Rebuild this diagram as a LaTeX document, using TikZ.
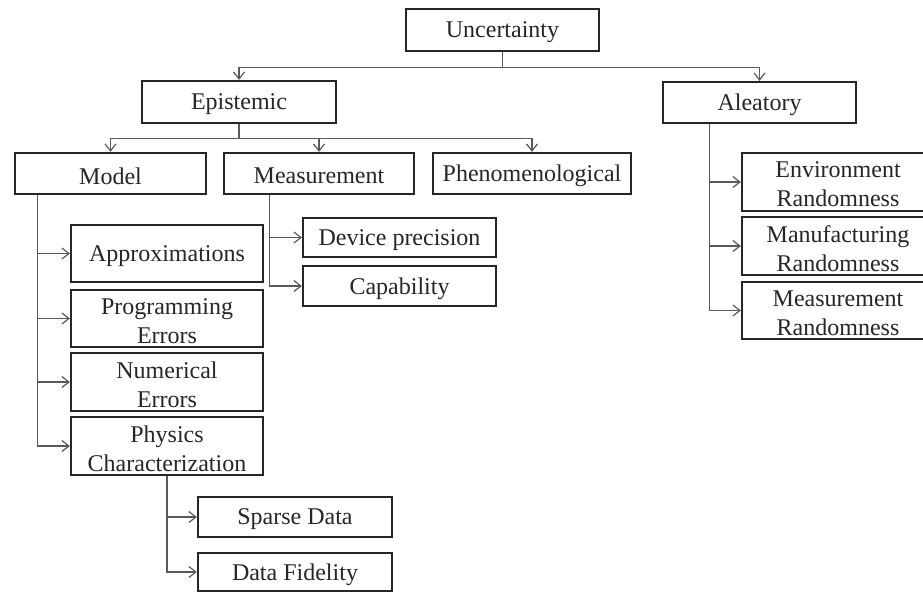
\documentclass[tikz,border=0pt]{standalone}
\usepackage{fontspec}
\setmainfont{Liberation Serif}
\usetikzlibrary{arrows.meta}
\begin{document}
\begin{tikzpicture}[x=1pt,y=-1pt,
  box/.style={draw=black!85, line width=2.3pt, fill=white, inner sep=0pt},
  lab/.style={align=center, inner sep=0pt, yshift=-2.5pt,
    font=\fontsize{24}{29}\selectfont, text=black!85},
  arr/.style={draw=black!65, line width=1.2pt, -{Straight Barb[length=7pt,width=11pt,line width=1.2pt]}}]
\useasboundingbox (0,0) rectangle (923,592);
% nodes
\node[box, minimum width=193pt, minimum height=42pt, label={[lab]center:Uncertainty}] (unc) at (502.5,30) {};
\node[box, minimum width=194pt, minimum height=42pt, label={[lab]center:Epistemic}] (epi) at (239,102) {};
\node[box, minimum width=193pt, minimum height=41pt, label={[lab]center:Aleatory}] (ale) at (759.5,102.5) {};
\node[box, minimum width=191pt, minimum height=41pt, label={[lab]center:Model}] (model) at (110.5,173.5) {};
\node[box, minimum width=190pt, minimum height=41pt, label={[lab]center:Measurement}] (meas) at (319,173.5) {};
\node[box, minimum width=198pt, minimum height=41pt, label={[lab]center:Phenomenological}] (phen) at (532,173.5) {};
\node[box, minimum width=192pt, minimum height=57pt, label={[lab]center:Approximations}] (approx) at (167,253.5) {};
\node[box, minimum width=192pt, minimum height=57pt, label={[lab]center:{Programming\\Errors}}] (prog) at (167,318.5) {};
\node[box, minimum width=192pt, minimum height=58pt, label={[lab]center:{Numerical\\Errors}}] (num) at (167,382) {};
\node[box, minimum width=192pt, minimum height=58pt, label={[lab]center:{Physics\\Characterization}}] (phys) at (167,446) {};
\node[box, minimum width=193pt, minimum height=39pt, label={[lab]center:Device precision}] (dev) at (399.5,237.5) {};
\node[box, minimum width=193pt, minimum height=40pt, label={[lab]center:Capability}] (cap) at (399.5,286) {};
\node[box, minimum width=194pt, minimum height=40pt, label={[lab]center:Sparse Data}] (sparse) at (295,517) {};
\node[box, minimum width=194pt, minimum height=38pt, label={[lab]center:Data Fidelity}] (fid) at (295,572) {};
\node[box, minimum width=192pt, minimum height=58pt, label={[lab]center:{Environment\\Randomness}}] (env) at (838,182) {};
\node[box, minimum width=192pt, minimum height=58pt, label={[lab]center:{Manufacturing\\Randomness}}] (manu) at (838,246) {};
\node[box, minimum width=192pt, minimum height=57pt, label={[lab]center:{Measurement\\Randomness}}] (mr) at (838,310.5) {};
% connectors
\draw[arr] (unc.south) -- ++(0,15) -| (epi.north);
\draw[arr] (unc.south) -- ++(0,15) -| (ale.north);
\draw[arr] (epi.south) -- ++(0,14) -| (model.north);
\draw[arr] (epi.south) -- ++(0,14) -| (meas.north);
\draw[arr] (epi.south) -- ++(0,14) -| (phen.north);
\draw[arr] ([xshift=24pt]model.south west) |- (approx.west);
\draw[arr] ([xshift=24pt]model.south west) |- (prog.west);
\draw[arr] ([xshift=24pt]model.south west) |- (num.west);
\draw[arr] ([xshift=24pt]model.south west) |- (phys.west);
\draw[arr] ([xshift=47pt]meas.south west) |- (dev.west);
\draw[arr] ([xshift=47pt]meas.south west) |- (cap.west);
\draw[arr] (phys.south) |- (sparse.west);
\draw[arr] (phys.south) |- (fid.west);
\draw[arr] ([xshift=48pt]ale.south west) |- (env.west);
\draw[arr] ([xshift=48pt]ale.south west) |- (manu.west);
\draw[arr] ([xshift=48pt]ale.south west) |- (mr.west);
\end{tikzpicture}
\end{document}
